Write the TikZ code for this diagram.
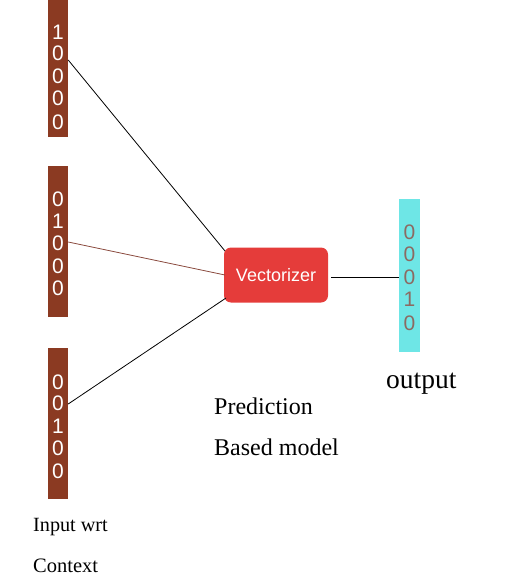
\documentclass[tikz,border=0pt]{standalone}
\usepackage{fontspec}
\setmainfont{Liberation Serif}
\setsansfont{Liberation Sans}
\definecolor{barbrown}{HTML}{8B3A22}
\definecolor{vecred}{HTML}{E53C3A}
\definecolor{outcyan}{HTML}{6EE6E6}
\definecolor{digitgray}{HTML}{8C6A62}
\definecolor{linebrown}{HTML}{8A4A3E}
\tikzset{
  inbar/.style={fill=barbrown, draw=none, minimum width=20pt, inner sep=0pt},
  outbar/.style={fill=outcyan, draw=none, minimum width=21pt, inner sep=0pt},
  dig/.style={font=\sffamily\fontsize{21}{21}\selectfont, text=white, inner sep=0pt},
  odig/.style={font=\sffamily\fontsize{21}{21}\selectfont, text=digitgray, inner sep=0pt},
  vecbox/.style={fill=vecred, draw=none, rounded corners=7pt, minimum width=104pt, minimum height=55pt, text=white, font=\sffamily\fontsize{18}{18}\selectfont},
  lbl/.style={font=\fontsize{22}{22}\selectfont, anchor=west, inner sep=0pt},
  conn/.style={line width=0.8pt, black},
}
\begin{document}
\begin{tikzpicture}[x=1pt,y=-1pt]
\useasboundingbox (0,0) rectangle (527,577);
% input bars
\node[inbar, minimum height=137pt] (b1) at (58,68.5) {};
\node[inbar, minimum height=151pt] (b2) at (58,241.5) {};
\node[inbar, minimum height=151pt] (b3) at (58,423) {};
\node[outbar, minimum height=153pt] (ob) at (409.5,275.5) {};
% digits
\foreach \d/\y [count=\i] in {1/32,0/53,0/76,0/98,0/122} \node[dig] (b1d\i) at (58,\y) {\d};
\foreach \d/\y [count=\i] in {0/199,1/221,0/243,0/266,0/288} \node[dig] (b2d\i) at (58,\y) {\d};
\foreach \d/\y [count=\i] in {0/382,0/403,1/426,0/448,0/471} \node[dig] (b3d\i) at (58,\y) {\d};
\foreach \d/\y [count=\i] in {0/232,0/254,0/277,1/299,0/323} \node[odig] (od\i) at (409.5,\y) {\d};
% vectorizer
\node[vecbox] (vec) at (276,275) {Vectorizer};
% connector endpoints
\coordinate (s1) at (b1.east |- 0,60);
\coordinate (s2) at (b2.east |- 0,242);
\coordinate (s3) at (b3.east |- 0,404);
\coordinate (e1) at (225,251);
\coordinate (e2) at (225,275);
\coordinate (e3) at (226,298);
\coordinate (s4) at (331,277);
\coordinate (e4) at (ob.west |- 0,277);
\draw[conn] (s1) -- (e1);
\draw[conn, linebrown] (s2) -- (e2);
\draw[conn] (s3) -- (e3);
\draw[conn] (s4) -- (e4);
% labels
\node[lbl, font=\fontsize{27.5}{27.5}\selectfont] (out) at (386,384) {output};
\node[lbl, font=\fontsize{24}{24}\selectfont] (pred) at (214,406) {Prediction};
\node[lbl, font=\fontsize{24}{24}\selectfont] (based) at (214,447) {Based model};
\node[lbl, font=\fontsize{20.2}{20.2}\selectfont] (inp) at (33,527) {Input wrt};
\node[lbl, font=\fontsize{20.5}{20.5}\selectfont] (ctx) at (33,566) {Context};
\end{tikzpicture}
\end{document}
